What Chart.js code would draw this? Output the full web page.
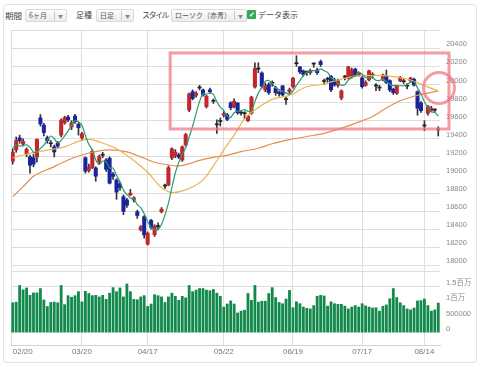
<!DOCTYPE html>
<html>
<head>
<meta charset="utf-8">
<script src="https://cdn.jsdelivr.net/npm/chart.js@4.4.0/dist/chart.umd.min.js"></script>
<style>
html, body { margin: 0; padding: 0; background: #fff; }
body { width: 480px; height: 367px; position: relative; overflow: hidden; font-family: "Noto Sans CJK JP", sans-serif; color: #444; }
#panel { position: absolute; left: 3px; top: 4px; width: 472px; height: 357px; border: 1px solid #e3e3e3; border-radius: 4px; }
.lab { position: absolute; top: 9px; font-size: 8px; line-height: 12px; white-space: nowrap; }
.sel { position: absolute; top: 9px; height: 11px; border: 1px solid #dadada; border-radius: 2px; background: linear-gradient(#fdfdfd, #ebebeb); font-size: 7px; line-height: 11px; color: #555; white-space: nowrap; }
.sel .t { position: absolute; left: 3px; top: 0; }
.sel .s { position: absolute; right: 11px; top: 1px; height: 9px; border-left: 1px solid #c8c8c8; }
.sel .a { position: absolute; right: 3px; top: 0; font-size: 5px; color: #888; }
#chk { position: absolute; left: 247px; top: 10px; width: 9px; height: 9px; background: #35a85a; border-radius: 1px; color: #fff; font-size: 7px; line-height: 9px; text-align: center; }
#chart { position: absolute; left: 0; top: 0; }
</style>
</head>
<body>
<div id="panel"></div>
<div class="lab" style="left:5px;font-size:8.5px">期間</div>
<div class="sel" style="left:25px;width:40px"><span class="t">6ヶ月</span><span class="s"></span><span class="a">▼</span></div>
<div class="lab" style="left:76px">足種</div>
<div class="sel" style="left:96px;width:36px"><span class="t">日足</span><span class="s"></span><span class="a">▼</span></div>
<div class="lab" style="left:142px;letter-spacing:-1.5px">スタイル</div>
<div class="sel" style="left:171px;width:74px"><span class="t">ローソク（赤青）</span><span class="s"></span><span class="a">▼</span></div>
<div id="chk">✔</div>
<div class="lab" style="left:258px">データ表示</div>
<canvas id="chart" width="480" height="367"></canvas>
<script>
// trading days (category axis)
const days = [
  '02/20','02/21','02/22','02/23','02/24','02/27','02/28',
  '03/01','03/02','03/03','03/06','03/07','03/08','03/09','03/10','03/13','03/14','03/15','03/16','03/17',
  '03/21','03/22','03/23','03/24','03/27','03/28','03/29','03/30','03/31',
  '04/03','04/04','04/05','04/06','04/07','04/10','04/11','04/12','04/13','04/14',
  '04/17','04/18','04/19','04/20','04/21','04/24','04/25','04/26','04/27','04/28',
  '05/01','05/02','05/08','05/09','05/10','05/11','05/12','05/15','05/16','05/17','05/18','05/19',
  '05/22','05/23','05/24','05/25','05/26','05/29','05/30','05/31',
  '06/01','06/02','06/05','06/06','06/07','06/08','06/09','06/12','06/13','06/14','06/15','06/16',
  '06/19','06/20','06/21','06/22','06/23','06/26','06/27','06/28','06/29','06/30',
  '07/03','07/04','07/05','07/06','07/07','07/10','07/11','07/12','07/13','07/14',
  '07/18','07/19','07/20','07/21','07/24','07/25','07/26','07/27','07/28','07/31',
  '08/01','08/02','08/03','08/04','08/07','08/08','08/09','08/10',
  '08/14','08/15','08/16','08/17','08/18'
];

// x axis labels
const axisDays = ['02/20','03/21','04/17','05/22','06/19','07/18','08/14'];
const axisText = ['02/20','03/20','04/17','05/22','06/19','07/17','08/14'];

// candles
const open = [
  19150,19275,19410,19340,19230,19200,19190,19200,19630,19550,
  19410,19344,19310,19350,19440,19575,19640,19530,19650,19560,
  19410,19190,19050,19080,19077,19146,19217,19165,19185,19010,
  18944,18900,18759,18723,18780,18723,18593,18391,18538,18236,
  18497,18340,18430,18593,18876,18889,19187,19210,19220,19165,
  19331,19718,19920,19880,19961,19939,19754,19940,19814,19554,
  19591,19660,19663,19795,19755,19795,19683,19677,19600,19681,
  19972,20170,20127,19939,20000,20013,19961,19899,19983,19832,
  19920,19976,20230,20193,20150,20133,20130,20225,20160,20252,
  20033,20056,20090,20050,19990,19850,20081,20068,20090,20170,
  20100,20072,19990,20050,20100,19983,19960,20050,20094,20042,
  19947,19902,20040,20030,19980,20040,20057,19920,19795,19541,
  19681,19710,19717,19497
];
const high = [
  19290,19420,19440,19400,19300,19220,19230,19400,19668,19570,
  19430,19380,19330,19370,19620,19650,19660,19600,19670,19580,
  19470,19200,19120,19280,19090,19220,19250,19180,19200,19030,
  18960,18920,18780,18740,18840,18760,18610,18440,18550,18370,
  18510,18450,18470,18640,18900,19100,19300,19280,19240,19320,
  19460,19905,19940,19920,19990,19950,19880,19960,19840,19610,
  19630,19700,19680,19810,19840,19800,19710,19700,19660,19870,
  20239,20240,20140,20016,20020,20040,19980,19930,19990,19860,
  19960,20080,20318,20200,20160,20150,20170,20240,20180,20270,
  20060,20080,20100,20070,20060,19940,20100,20200,20180,20180,
  20140,20090,20040,20160,20130,20010,19990,20115,20160,20050,
  19960,19990,20090,20060,20010,20080,20070,19930,19810,19600,
  19770,19760,19730,19533
];
const low = [
  19120,19250,19350,19320,19200,19020,19090,19140,19540,19430,
  19350,19310,19200,19290,19420,19560,19590,19500,19570,19440,
  19380,19020,19030,19070,18930,19120,19190,19040,18900,18950,
  18730,18830,18560,18640,18770,18700,18520,18380,18300,18224,
  18400,18320,18400,18580,18850,18880,19170,19190,19180,19150,
  19320,19700,19830,19860,19940,19870,19740,19900,19790,19460,
  19540,19640,19600,19720,19740,19670,19660,19620,19590,19670,
  19960,20130,19960,19920,19890,19980,19880,19870,19870,19780,
  19900,19960,20200,20120,20090,20100,20110,20190,20110,20200,
  20000,20020,19920,19980,19970,19830,20050,20060,20070,20090,
  20090,19960,19980,20040,20070,19930,19930,20040,20010,19920,
  19890,19890,20030,20010,19950,20020,19980,19660,19690,19489,
  19660,19700,19690,19430
];
const close = [
  19251,19381,19379,19371,19283,19107,19119,19393,19564,19469,
  19379,19344,19254,19318,19605,19633,19609,19577,19590,19521,
  19455,19041,19085,19262,18986,19203,19217,19063,18909,18984,
  18810,18861,18597,18665,18798,18747,18552,18427,18336,18356,
  18419,18432,18430,18621,18876,19080,19289,19252,19197,19311,
  19446,19896,19844,19901,19961,19883,19870,19920,19814,19554,
  19591,19679,19614,19743,19814,19687,19683,19677,19651,19860,
  20177,20170,19980,19985,19910,20013,19909,19899,19884,19832,
  19943,20068,20230,20139,20111,20133,20154,20225,20130,20220,
  20033,20056,19940,19995,20040,19929,20081,20195,20160,20105,
  20130,19976,20021,20150,20100,19983,19960,20105,20020,19939,
  19910,19983,20080,20030,19980,20070,19994,19737,19710,19541,
  19755,19735,19717,19497
];

// volume
const volume = [
  990000,1010000,1550000,1410000,1470000,1230000,1310000,1310000,1450000,1080000,
  870000,1000000,1010000,990000,1550000,930000,1220000,1170000,1220000,1350000,
  1020000,1360000,1290000,1220000,1230000,1180000,1230000,1100000,1300000,1480000,
  1350000,1470000,1180000,1600000,1350000,1100000,1090000,1180000,1220000,870000,
  950000,1250000,1220000,1180000,1000000,1180000,1300000,1200000,1070000,1200000,
  1150000,1550000,1350000,1400000,1450000,1450000,1400000,1380000,1420000,1300000,
  1200000,850000,950000,1050000,950000,660000,720000,750000,1290000,1070000,
  1550000,1010000,1040000,1040000,1290000,1480000,1160000,1000000,960000,1110000,
  1390000,830000,1020000,960000,850000,810000,790000,900000,1200000,1230000,
  1210000,880000,1020000,960000,940000,940000,880000,790000,850000,900000,
  850000,960000,890000,850000,820000,830000,720000,880000,920000,1120000,
  1450000,1160000,990000,900000,790000,760000,820000,1050000,1060000,1110000,
  900000,720000,760000,980000
];

// moving averages
const ma5 = [
  19302,19330,19319,19323,19333,19304,19252,19255,19293,19330,
  19385,19430,19402,19353,19380,19431,19484,19548,19603,19586,
  19550,19437,19338,19273,19166,19115,19151,19146,19076,19075,
  18997,18925,18832,18783,18746,18734,18672,18638,18572,18484,
  18418,18394,18395,18452,18556,18688,18859,19024,19139,19226,
  19299,19420,19539,19680,19810,19897,19892,19907,19890,19808,
  19750,19712,19650,19636,19688,19707,19708,19721,19702,19712,
  19810,19907,19968,20034,20044,20012,19959,19943,19923,19907,
  19893,19925,19991,20042,20098,20136,20153,20152,20151,20172,
  20152,20133,20076,20049,20013,19992,19997,20048,20081,20094,
  20134,20113,20078,20076,20075,20046,20043,20060,20034,20001,
  19987,19991,19986,19988,19997,20029,20031,19962,19898,19810,
  19747,19696,19692,19649
];
const ma25Days = ['02/20','02/27','03/06','03/13','03/21','03/23','03/28','04/04','04/11','04/17','04/21','04/26','05/02','05/12','05/17','05/22','05/25','05/30','06/05','06/09','06/16','06/23','06/30','07/07','07/14','07/24','07/31','08/04','08/09','08/15','08/18'];
const ma25 = [19190,19240,19275,19310,19385,19395,19365,19290,19160,19030,18860,18805,18835,18945,19100,19276,19440,19620,19745,19835,19880,19975,20005,20060,20095,20100,20086,20060,20020,19970,19930];
const ma75Days = ['02/20','02/23','02/28','03/07','03/14','03/21','03/28','03/31','04/07','04/13','04/19','04/25','04/28','05/08','05/11','05/17','05/22','05/29','06/05','06/09','06/16','06/23','06/30','07/06','07/13','07/21','07/27','08/02','08/08','08/15','08/18'];
const ma75 = [18760,18870,18985,19075,19165,19220,19265,19276,19255,19200,19140,19110,19100,19125,19160,19195,19210,19257,19295,19345,19390,19425,19460,19505,19570,19645,19740,19820,19870,19905,19930];

// axes
const priceTicks = [18000,18200,18400,18600,18800,19000,19200,19400,19600,19800,20000,20200,20400];
const priceRange = [17938, 20602];
const volTicks = [0, 500000, 1000000, 1500000];
const volText = ['0', '500000', '1百万', '1.5百万'];
const volRange = [-389000, 2008000];

// pink marks (category index, price)
const boxIndex = [45.5, 126.1];
const boxPrice = [20348, 19508];
const ringAt = [123.2, 19961];

const gridCol = '#dedede';
const fontFam = "'Liberation Sans', 'Noto Sans CJK JP', sans-serif";
const tickIndex = axisDays.map(d => days.indexOf(d));

const bodyColors = open.map((o, i) => close[i] > o ? '#c4262c' : (close[i] < o ? '#1c239e' : '#222'));

const overlay = {
  id: 'overlay',
  beforeDatasetsDraw(chart) {
    const a = chart.chartArea, c = chart.ctx;
    c.save();
    c.strokeStyle = gridCol;
    c.lineWidth = 1;
    c.beginPath();
    c.moveTo(a.left + 0.5, a.top);
    c.lineTo(a.left + 0.5, a.bottom);
    c.stroke();
    c.restore();
  },
  afterDraw(chart) {
    const xs = chart.scales.x, ys = chart.scales.y, c = chart.ctx;
    c.save();
    c.strokeStyle = 'rgba(238,118,128,0.72)';
    c.lineWidth = 3;
    const x1 = xs.getPixelForValue(boxIndex[0]), x2 = xs.getPixelForValue(boxIndex[1]);
    const y1 = ys.getPixelForValue(boxPrice[0]), y2 = ys.getPixelForValue(boxPrice[1]);
    c.strokeRect(x1, y1, x2 - x1, y2 - y1);
    c.beginPath();
    c.arc(xs.getPixelForValue(ringAt[0]), ys.getPixelForValue(ringAt[1]), 15.5, 0, Math.PI * 2);
    c.stroke();
    c.restore();
  }
};

new Chart(document.getElementById('chart'), {
  data: {
    labels: days,
    datasets: [
      { type: 'line', data: ma5, borderColor: '#2b9a72', borderWidth: 1.2, pointRadius: 0, tension: 0.3, yAxisID: 'y', order: 0 },
      { type: 'line', data: ma25Days.map((d, i) => ({ x: d, y: ma25[i] })), borderColor: '#e9b552', borderWidth: 1.2, pointRadius: 0, cubicInterpolationMode: 'monotone', yAxisID: 'y', order: 0 },
      { type: 'line', data: ma75Days.map((d, i) => ({ x: d, y: ma75[i] })), borderColor: '#e58d4e', borderWidth: 1.2, pointRadius: 0, cubicInterpolationMode: 'monotone', yAxisID: 'y', order: 0 },
      { type: 'bar', data: open.map((o, i) => [o, close[i]]), backgroundColor: bodyColors, barThickness: 3.4, minBarLength: 1, grouped: false, yAxisID: 'y', order: 1 },
      { type: 'bar', data: low.map((l, i) => [l, high[i]]), backgroundColor: '#333', barThickness: 1, grouped: false, yAxisID: 'y', order: 2 },
      { type: 'bar', data: volume, backgroundColor: '#138a4c', barPercentage: 0.82, categoryPercentage: 1, grouped: false, yAxisID: 'yv', order: 3 }
    ]
  },
  options: {
    responsive: false,
    animation: false,
    devicePixelRatio: 1,
    layout: { padding: { left: 11, top: 30, right: 0, bottom: 0 } },
    plugins: { legend: { display: false }, tooltip: { enabled: false } },
    scales: {
      x: {
        type: 'category',
        offset: true,
        grid: { offset: false, drawTicks: false, color: ctx => (tickIndex.indexOf(ctx.index) > 0 ? gridCol : 'rgba(0,0,0,0)') },
        border: { color: '#d2d2d2' },
        ticks: {
          autoSkip: false, maxRotation: 0, minRotation: 0, align: 'inner', padding: 2,
          color: '#777', font: { size: 8, family: fontFam },
          callback: (v, i) => { const k = tickIndex.indexOf(i); return k < 0 ? '' : axisText[k]; }
        },
        afterFit: s => { s.height = 22; }
      },
      y: {
        type: 'linear', position: 'right', stack: 'main', stackWeight: 241,
        min: priceRange[0], max: priceRange[1],
        afterBuildTicks: s => { s.ticks = [priceRange[0], ...priceTicks, priceRange[1]].map(v => ({ value: v })); },
        grid: { color: gridCol, drawTicks: false },
        border: { display: false },
        ticks: { autoSkip: false, padding: 6, labelOffset: -4, color: '#888', font: { size: 7.5, family: fontFam }, callback: v => (priceTicks.includes(v) ? String(v) : '') },
        afterFit: s => { s.width = 40; }
      },
      yv: {
        type: 'linear', position: 'right', stack: 'main', stackWeight: 74,
        min: volRange[0], max: volRange[1],
        afterBuildTicks: s => { s.ticks = volTicks.map(v => ({ value: v })); },
        grid: { color: ctx => (ctx.tick && ctx.tick.value === 1500000 ? gridCol : 'rgba(0,0,0,0)'), drawTicks: false },
        border: { display: false },
        ticks: { autoSkip: false, padding: 6, labelOffset: -4, color: '#888', font: { size: 7.5, family: fontFam }, callback: v => { const k = volTicks.indexOf(v); return k < 0 ? '' : volText[k]; } },
        afterFit: s => { s.width = 40; }
      }
    }
  },
  plugins: [overlay]
});
</script>
</body>
</html>
